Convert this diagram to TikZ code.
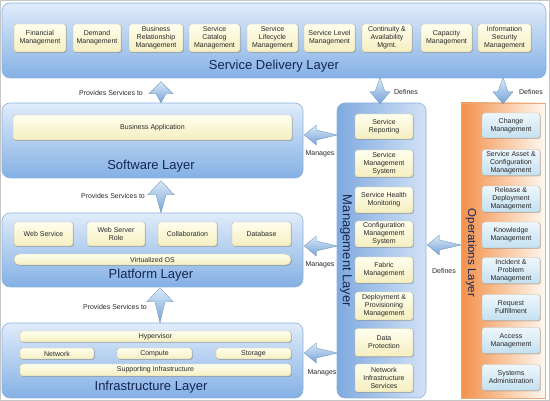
\documentclass[tikz,border=0pt]{standalone}
\usepackage{fontspec}
\setmainfont{Liberation Sans}
\usetikzlibrary{calc,shadows}

\definecolor{laytop}{RGB}{224,236,250}
\definecolor{laybot}{RGB}{132,176,228}
\definecolor{layedge}{RGB}{140,178,224}
\definecolor{mgl}{RGB}{128,170,222}
\definecolor{mgr}{RGB}{210,226,246}
\definecolor{ytop}{RGB}{255,255,238}
\definecolor{ybot}{RGB}{245,238,192}
\definecolor{boxedge}{RGB}{185,185,165}
\definecolor{btop}{RGB}{238,247,252}
\definecolor{bbot}{RGB}{196,224,240}
\definecolor{navy}{RGB}{22,38,85}
\definecolor{txt}{RGB}{40,40,40}
\definecolor{arrl}{RGB}{218,234,250}
\definecolor{arrd}{RGB}{118,163,214}
\definecolor{orng}{RGB}{243,145,75}
\definecolor{orngr}{RGB}{255,248,240}
\definecolor{orngedge}{RGB}{232,170,125}

\newcommand{\barrow}[5]{% tip, angle, length, head half width, head length
  \begin{scope}[shift={(#1)}, rotate=#2]
    \path[arrowshade] (0,0) -- (-#5,#4) -- (-#5,5) -- (-#3,0) -- (-#5,-5) -- (-#5,-#4) -- cycle;
  \end{scope}}

\tikzset{
  sz/.style 2 args={minimum width=#1pt, minimum height=#2pt},
  layer/.style={draw=layedge, line width=0.6pt, rounded corners=8pt, top color=laytop, bottom color=laybot, inner sep=0pt},
  title/.style={font=\fontsize{13}{15}\selectfont, text=navy, inner sep=0pt},
  ybox/.style={draw=boxedge, line width=0.4pt, rounded corners=2.5pt, top color=ytop, bottom color=ybot,
    font=\fontsize{7}{8}\selectfont, text=txt, align=center, inner sep=0pt,
    drop shadow={shadow xshift=0.9pt, shadow yshift=-0.9pt, opacity=0.4, fill=black!55}},
  bbox/.style={ybox, top color=btop, bottom color=bbot},
  lbl/.style={font=\fontsize{7}{8}\selectfont, text=txt, inner sep=0pt},
  arrowshade/.style={top color=arrl, bottom color=arrd, draw=arrd!85!black, line width=0.3pt}
}

\begin{document}
\begin{tikzpicture}[x=1pt,y=-1pt]
\useasboundingbox (0,0) rectangle (550,401);
\draw[gray!45, line width=0.8pt] (0.4,0.4) rectangle (549.6,400.6);

% ---------- Service Delivery Layer ----------
\node[layer, sz={544}{75}] (sdl) at (274,40.5) {};
\node[title] (sdlt) at (274,66) {Service Delivery Layer};
\node[ybox, sz={52}{28}] (s1) at (40,38) {Financial\\Management};
\node[ybox, sz={48}{28}] (s2) at (97,38) {Demand\\Management};
\node[ybox, sz={54}{28}] (s3) at (156,38) {Business\\Relationship\\Management};
\node[ybox, sz={51}{28}] (s4) at (214.5,38) {Service\\Catalog\\Management};
\node[ybox, sz={51}{28}] (s5) at (272.5,38) {Service\\Lifecycle\\Management};
\node[ybox, sz={51}{28}] (s6) at (329.5,38) {Service Level\\Management};
\node[ybox, sz={50}{28}] (s7) at (387,38) {Continuity \&\\Availability\\Mgmt.};
\node[ybox, sz={51}{28}] (s8) at (446.5,38) {Capacity\\Management};
\node[ybox, sz={53}{28}] (s9) at (504.5,38) {Information\\Security\\Management};

% ---------- Software Layer ----------
\node[layer, sz={301}{75}] (sw) at (152.5,140.5) {};
\node[title] (swt) at (151,166) {Software Layer};
\node[ybox, sz={279}{25}] (ba) at (152.5,127.5) {Business Application};

% ---------- Platform Layer ----------
\node[layer, sz={301}{74}] (pl) at (152.5,250) {};
\node[title] (plt) at (151,275) {Platform Layer};
\node[ybox, sz={59}{24}] (p1) at (43.5,234) {Web Service};
\node[ybox, sz={58}{24}] (p2) at (116,234) {Web Server\\Role};
\node[ybox, sz={59}{24}] (p3) at (187.5,234) {Collaboration};
\node[ybox, sz={59}{24}] (p4) at (261.5,234) {Database};
\node[ybox, sz={277}{11}, rounded corners=5pt] (vos) at (152.5,259.5) {Virtualized OS};

% ---------- Infrastructure Layer ----------
\node[layer, sz={301}{75}] (inf) at (152.5,360.5) {};
\node[title] (inft) at (151,387) {Infrastructure Layer};
\node[ybox, sz={271}{11}] (hv) at (155.5,336.5) {Hypervisor};
\node[ybox, sz={74}{11}] (net) at (57,353.5) {Network};
\node[ybox, sz={75}{11}] (cmp) at (154.5,353.5) {Compute};
\node[ybox, sz={75}{11}] (sto) at (253.5,353.5) {Storage};
\node[ybox, sz={271}{12}] (si) at (155.5,370) {Supporting Infrastructure};

% ---------- Management Layer ----------
\node[draw=layedge, line width=0.6pt, rounded corners=8pt, left color=mgl, right color=mgr, inner sep=0pt, sz={89}{295}] (mg) at (381.5,250.5) {};
\node[title, rotate=-90] (mgt) at (346,251) {Management Layer};
\node[ybox, sz={58}{25}] (m1) at (384,126.5) {Service\\Reporting};
\node[ybox, sz={58}{27}] (m2) at (384,163.5) {Service\\Management\\System};
\node[ybox, sz={58}{26}] (m3) at (384,200) {Service Health\\Monitoring};
\node[ybox, sz={58}{26}] (m4) at (384,234) {Configuration\\Management\\System};
\node[ybox, sz={58}{26}] (m5) at (384,270) {Fabric\\Management};
\node[ybox, sz={58}{28}] (m6) at (384,306) {Deployment \&\\Provisioning\\Management};
\node[ybox, sz={58}{28}] (m7) at (384,342.5) {Data\\Protection};
\node[ybox, sz={58}{28}] (m8) at (384,378) {Network\\Infrastructure\\Services};

% ---------- Operations Layer ----------
\node[draw=orngedge, line width=0.5pt, left color=orng, right color=orngr, inner sep=0pt, sz={84}{295}] (op) at (503,250.5) {};
\node[title, font=\fontsize{11.5}{13}\selectfont, rotate=-90] (opt) at (471,253) {Operations Layer};
\node[bbox, sz={58}{25}] (o1) at (511,125.5) {Change\\Management};
\node[bbox, sz={58}{26}] (o2) at (511,162.5) {Service Asset \&\\Configuration\\Management};
\node[bbox, sz={58}{26}] (o3) at (511,199) {Release \&\\Deployment\\Management};
\node[bbox, sz={58}{26}] (o4) at (511,235) {Knowledge\\Management};
\node[bbox, sz={58}{26}] (o5) at (511,270.5) {Incident \&\\Problem\\Management};
\node[bbox, sz={58}{26}] (o6) at (511,307.5) {Request\\Fulfillment};
\node[bbox, sz={58}{26}] (o7) at (511,340.5) {Access\\Management};
\node[bbox, sz={58}{26}] (o8) at (511,377.5) {Systems\\Administration};

% ---------- Block arrows ----------
% Provides Services to (upwards)
\barrow{$(sw.north)+(8.5,-21)$}{90}{21}{12}{12}
\barrow{$(pl.north)+(8.5,-32)$}{90}{32}{13}{14}
\barrow{$(inf.north)+(7.5,-35)$}{90}{35}{13}{14}
% Manages (leftwards)
\barrow{$(sw.east)+(1,-5.5)$}{180}{33}{10}{12}
\barrow{$(pl.east)+(1,-4)$}{180}{33}{10}{12}
\barrow{$(inf.east)+(1,-7.5)$}{180}{33}{10}{12}
% Defines (downwards and leftwards)
\barrow{$(mg.north)+(-1.5,1)$}{-90}{26}{10}{12}
\barrow{$(op.north)+(0,1)$}{-90}{26}{10}{12}
\barrow{$(mg.east)+(1,-5.5)$}{180}{34}{10}{12}

% ---------- Labels ----------
\node[lbl] (lp1) at (111,93) {Provides Services to};
\node[lbl] (lp2) at (113,196) {Provides Services to};
\node[lbl] (lp3) at (115,307) {Provides Services to};
\node[lbl] (lm1) at (320,154) {Manages};
\node[lbl] (lm2) at (320,265) {Manages};
\node[lbl] (lm3) at (322,373) {Manages};
\node[lbl] (ld1) at (406,92) {Defines};
\node[lbl] (ld2) at (531,92) {Defines};
\node[lbl] (ld3) at (444,271) {Defines};
\end{tikzpicture}
\end{document}
